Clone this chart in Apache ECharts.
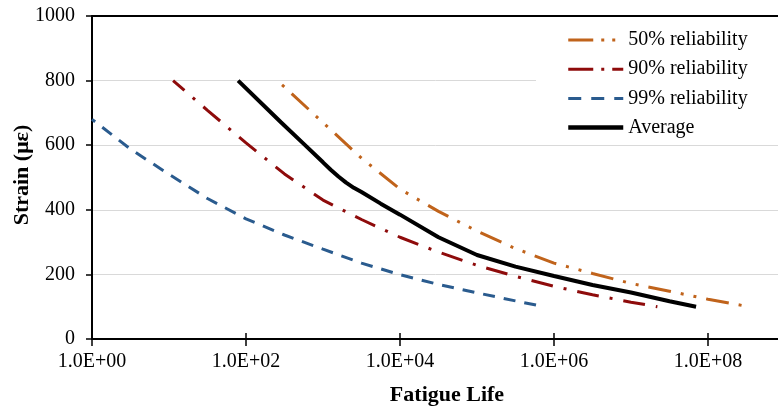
<!DOCTYPE html>
<html>
<head>
<meta charset="utf-8">
<script src="https://cdn.jsdelivr.net/npm/echarts@6/dist/echarts.min.js"></script>
<style>
html,body{margin:0;padding:0;background:#fff;}
#chart{width:778px;height:410px;}
</style>
</head>
<body>
<div id="chart"></div>
<script>
// ---- Data (fatigue life N, strain in microstrain) ----
const seriesNames = ['50% reliability', '90% reliability', '99% reliability', 'Average'];

const r50N = [254, 316, 1000, 3162, 10000, 31623, 100000, 316228, 1000000, 3162278, 10000000, 31622777, 100000000, 340000000];
const r50S = [800, 780, 670, 560, 464, 395, 334, 280, 235, 203, 172, 148, 123, 100];

const r90N = [11.3, 31.6, 100, 316, 1000, 3162, 10000, 31623, 100000, 316228, 1000000, 3162278, 10000000, 22000000];
const r90S = [800, 708, 607, 511, 430, 370, 315, 269, 228, 194, 163, 137, 114, 100];

const r99N = [1, 3.16, 10, 31.6, 100, 316, 1000, 3162, 10000, 31623, 100000, 316228, 740000];
const r99S = [680, 588, 510, 435, 372, 322, 278, 235, 199, 169, 143, 118, 100];

const avgN = [79, 282, 562, 1000, 1259, 1585, 1995, 2512, 3162, 5623, 10000, 31623, 100000, 316228, 1000000, 3162278, 10000000, 31622777, 70000000];
const avgS = [800, 672, 604, 547, 524, 503, 484, 468, 455, 419, 385, 315, 260, 224, 195, 167, 144, 117, 100];

const yTicks = [0, 200, 400, 600, 800, 1000];
const xTicks = [1, 100, 10000, 1000000, 100000000];

const zip = (a, b) => a.map((v, i) => [v, b[i]]);

const FONT = 'Liberation Serif';
const chart = echarts.init(document.getElementById('chart'), null, {renderer: 'canvas'});

const xFormatter = function (v) {
  const e = Math.round(Math.log10(v));
  return '1.0E+' + (e < 10 ? '0' + e : '' + e);
};

const dash50 = [23, 10, 3, 10, 3, 10];
const dash90 = [22, 11, 3, 11];
const dash99 = [12, 9];

const logAxisBase = {type: 'log', logBase: 10, min: 1, max: 1e9, splitLine: {show: false}, minorTick: {show: false}};

chart.setOption({
  animation: false,
  backgroundColor: '#fff',
  grid: {
    left: 92, top: 16, right: -7, bottom: 71,
    outerBoundsMode: 'none', containLabel: false, show: false
  },
  xAxis: [
    Object.assign({}, logAxisBase, {
      position: 'bottom',
      axisLine: {show: true, lineStyle: {color: '#000', width: 2}},
      axisTick: {show: true, inside: false, length: 7, customValues: xTicks, lineStyle: {color: '#000', width: 1.5}},
      axisLabel: {show: true, customValues: xTicks, formatter: xFormatter, color: '#000', fontFamily: FONT, fontSize: 20, margin: 13}
    }),
    Object.assign({}, logAxisBase, {
      position: 'top',
      axisLine: {show: true, lineStyle: {color: '#000', width: 2}},
      axisTick: {show: false},
      axisLabel: {show: false}
    }),
    Object.assign({}, logAxisBase, {
      position: 'bottom',
      axisLine: {show: false},
      axisTick: {show: true, inside: true, length: 6, customValues: xTicks, lineStyle: {color: '#000', width: 1.5}},
      axisLabel: {show: false}
    })
  ],
  yAxis: {
    type: 'value', min: yTicks[0], max: yTicks[yTicks.length - 1], interval: 200,
    axisLine: {show: true, lineStyle: {color: '#000', width: 2}},
    axisTick: {show: true, inside: false, length: 6, lineStyle: {color: '#000', width: 1.5}},
    axisLabel: {color: '#000', fontFamily: FONT, fontSize: 20, margin: 17, formatter: function (v) { return String(v); }},
    splitLine: {show: true, lineStyle: {color: '#d9d9d9', width: 1}}
  },
  legend: {
    orient: 'vertical', left: 536, top: 20,
    padding: [10, 40, 6, 30],
    backgroundColor: '#fff',
    itemWidth: 55, itemHeight: 14, itemGap: 9.2,
    itemStyle: {opacity: 0},
    textStyle: {fontFamily: FONT, fontSize: 20, color: '#000', lineHeight: 20},
    data: [
      {name: seriesNames[0], lineStyle: {width: 3, type: [25, 8, 3, 8, 3, 8], dashOffset: 0}},
      {name: seriesNames[1], lineStyle: {width: 3, type: [25, 8, 3, 8], dashOffset: 0}},
      {name: seriesNames[2], lineStyle: {width: 3, type: [13, 10], dashOffset: 0}},
      {name: seriesNames[3], lineStyle: {width: 4.5, type: 'solid'}}
    ]
  },
  graphic: [
    {type: 'text', x: 447, y: 395, style: {text: 'Fatigue Life', font: 'bold 22px "Liberation Serif"', fill: '#000', textAlign: 'center', textVerticalAlign: 'middle'}},
    {type: 'text', x: 22, y: 175, rotation: Math.PI / 2, style: {text: 'Strain (με)', font: 'bold 22px "Liberation Serif"', fill: '#000', textAlign: 'center', textVerticalAlign: 'middle'}}
  ],
  series: [
    {name: seriesNames[0], type: 'line', data: zip(r50N, r50S), showSymbol: false, symbol: 'none', smooth: false,
     color: '#C0631B', lineStyle: {color: '#C0631B', width: 3, type: dash50, dashOffset: 39.5}},
    {name: seriesNames[1], type: 'line', data: zip(r90N, r90S), showSymbol: false, symbol: 'none', smooth: false,
     color: '#8E0B0B', lineStyle: {color: '#8E0B0B', width: 3, type: dash90, dashOffset: 7}},
    {name: seriesNames[2], type: 'line', data: zip(r99N, r99S), showSymbol: false, symbol: 'none', smooth: false,
     color: '#2A5B8E', lineStyle: {color: '#2A5B8E', width: 3, type: dash99, dashOffset: 8}},
    {name: seriesNames[3], type: 'line', data: zip(avgN, avgS), showSymbol: false, symbol: 'none', smooth: false,
     color: '#000', lineStyle: {color: '#000', width: 4, type: 'solid'}}
  ]
});
</script>
</body>
</html>
